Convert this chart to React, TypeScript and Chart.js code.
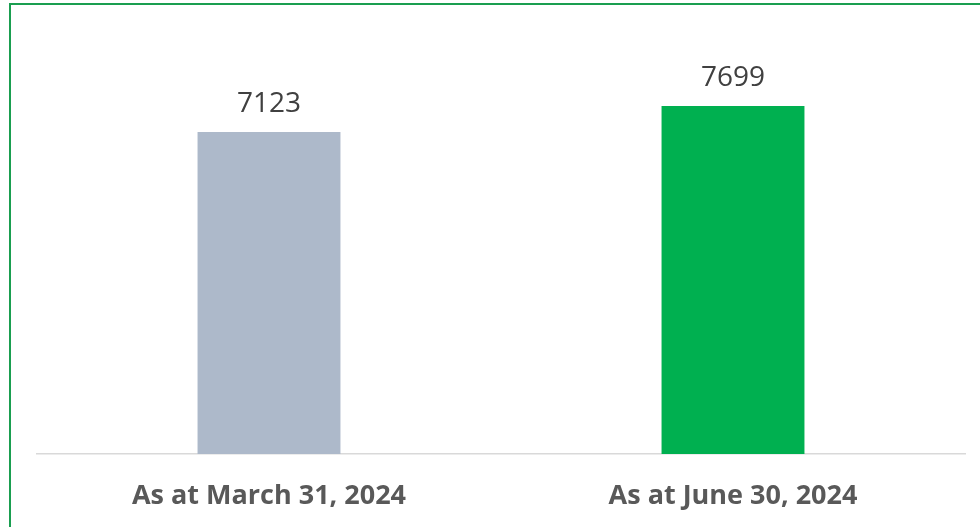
import React, { useEffect, useRef } from "react";
import { Chart, registerables } from "chart.js";

Chart.register(...registerables);

const categories = ["As at March 31, 2024", "As at June 30, 2024"];
const values = [7123, 7699];
const barColors = ["#adb9ca", "#00b050"];

const FONT = "'Open Sans', 'Liberation Sans', sans-serif";

const frame = {
  id: "frame",
  beforeDraw(chart: any) {
    const ctx = chart.ctx;
    ctx.save();
    ctx.fillStyle = "#ffffff";
    ctx.fillRect(0, 0, chart.width, chart.height);
    ctx.strokeStyle = "#1a9e50";
    ctx.lineWidth = 2;
    ctx.strokeRect(10, 4, 1100, 700);
    ctx.restore();
  },
};

const valueLabels = {
  id: "valueLabels",
  afterDatasetsDraw(chart: any) {
    const ctx = chart.ctx;
    const meta = chart.getDatasetMeta(0);
    ctx.save();
    ctx.fillStyle = "#404040";
    ctx.font = `28px ${FONT}`;
    ctx.textAlign = "center";
    ctx.textBaseline = "alphabetic";
    meta.data.forEach((bar: any, i: number) => {
      ctx.fillText(String(values[i]), bar.x, bar.y - 20);
    });
    ctx.restore();
  },
};

export default function App() {
  const ref = useRef<HTMLCanvasElement>(null);
  useEffect(() => {
    if (!ref.current) return;
    const chart = new Chart(ref.current, {
      type: "bar",
      data: {
        labels: categories,
        datasets: [
          {
            data: values,
            backgroundColor: barColors,
            barPercentage: 0.308,
            categoryPercentage: 1,
          },
        ],
      },
      options: {
        animation: false,
        responsive: false,
        maintainAspectRatio: false,
        layout: { padding: { left: 37, right: 15, top: 20, bottom: 16.6 } },
        plugins: { legend: { display: false }, tooltip: { enabled: false } },
        scales: {
          x: {
            grid: { display: false, drawTicks: false },
            border: { display: true, color: "#d9d9d9", width: 1.5 },
            ticks: {
              padding: 26,
              color: "#595959",
              font: { family: FONT, size: 27, weight: "bold" },
            },
            afterFit(scale: any) {
              scale.height = 56.4;
            },
          },
          y: {
            display: false,
            min: 0,
            max: 9600,
          },
        },
      },
      plugins: [frame, valueLabels],
    });
    return () => chart.destroy();
  }, []);
  return (
    <div style={{ position: "fixed", left: 0, top: 0, width: 980, height: 527 }}>
      <canvas ref={ref} width={980} height={527} />
    </div>
  );
}
